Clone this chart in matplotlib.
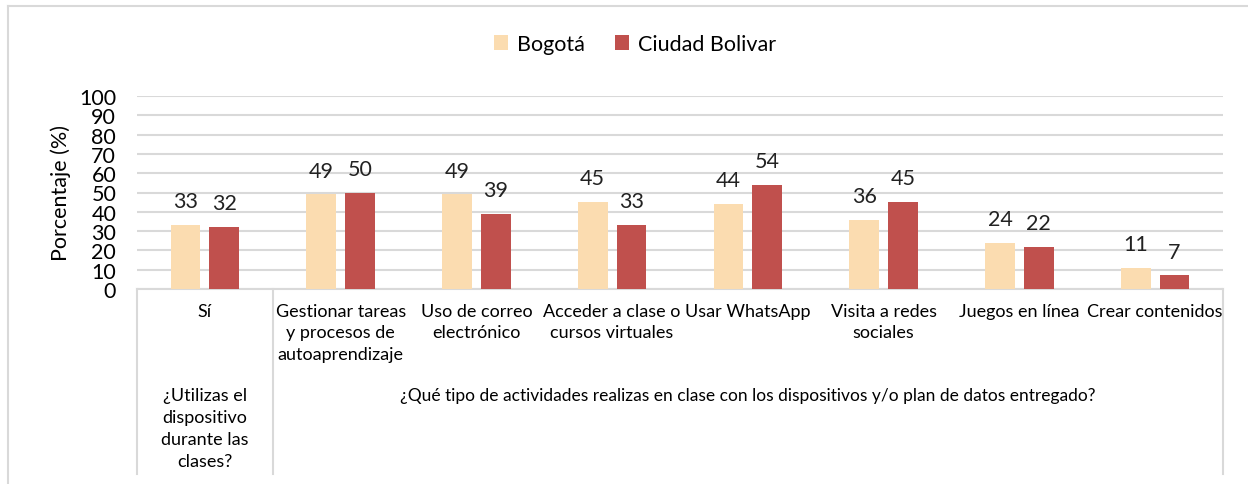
import numpy as np
import matplotlib
matplotlib.use("Agg")
import matplotlib.pyplot as plt
from matplotlib.lines import Line2D
from matplotlib.transforms import blended_transform_factory

plt.rcParams['font.family'] = ['Lato', 'DejaVu Sans']

categorias = ["Sí",
              "Gestionar tareas\ny procesos de\nautoaprendizaje",
              "Uso de correo\nelectrónico",
              "Acceder a clase o\ncursos virtuales",
              "Usar WhatsApp",
              "Visita a redes\nsociales",
              "Juegos en línea",
              "Crear contenidos"]
bogota = [33, 49, 49, 45, 44, 36, 24, 11]
ciudad_bolivar = [32, 50, 39, 33, 54, 45, 22, 7]
grupos = ["¿Utilizas el\ndispositivo\ndurante las\nclases?",
          "¿Qué tipo de actividades realizas en clase con los dispositivos y/o plan de datos entregado?"]
yticks = list(range(0, 101, 10))

c_bog = "#FBDCB0"
c_cb = "#C0504D"
gris = "#D9D9D9"

fig = plt.figure(figsize=(12.48, 4.85), dpi=100)
ax = fig.add_axes([137 / 1248, 1 - 290 / 485, (1223 - 137) / 1248, 193 / 485])

x = np.arange(len(categorias))
w = 0.22
b1 = ax.bar(x - 0.143, bogota, w, color=c_bog, label="Bogotá", zorder=3)
b2 = ax.bar(x + 0.143, ciudad_bolivar, w, color=c_cb, label="Ciudad Bolivar", zorder=3)

for barras in (b1, b2):
    for r in barras:
        ax.annotate(f"{r.get_height():.0f}", (r.get_x() + r.get_width() / 2, r.get_height()),
                    xytext=(0, 10), textcoords="offset points", ha="center", va="bottom",
                    fontsize=15.5, color="#222222")

ax.set_xlim(-0.5, len(categorias) - 0.5)
ax.set_ylim(0, 100)
ax.set_yticks(yticks)
ax.tick_params(axis="y", length=0, labelsize=15.5, pad=15)
ax.set_xticks([])
ax.yaxis.grid(True, color=gris, lw=1.5, zorder=0)
for s in ["top", "right", "left"]:
    ax.spines[s].set_visible(False)
ax.spines["bottom"].set_color(gris)
ax.spines["bottom"].set_linewidth(1.5)
ax.set_ylabel("Porcentaje (%)", fontsize=15.5, labelpad=6)

# etiquetas de categoría y de grupo bajo el eje
tr = blended_transform_factory(ax.transData, ax.transAxes)
for i, c in enumerate(categorias):
    ax.text(i, -0.07, c, transform=tr, ha="center", va="top", fontsize=13, linespacing=1.45)
ax.text(0, -0.51, grupos[0], transform=tr, ha="center", va="top", fontsize=13, linespacing=1.45)
ax.text(4, -0.55, grupos[1], transform=tr, ha="center", va="center", fontsize=12.5)

for xs in (-0.5, 0.5, 7.5):
    ax.add_line(Line2D([xs, xs], [0, -0.96], transform=tr, color=gris, lw=1.5, clip_on=False))

fig.legend(handles=[b1, b2], loc="center", bbox_to_anchor=(635 / 1248, 1 - 45 / 485), ncol=2,
           frameon=False, fontsize=15.5, handlelength=0.65, handleheight=0.65,
           handletextpad=0.4, columnspacing=1.4)

# marco exterior del gráfico
fig.add_artist(Line2D([8 / 1248, 8 / 1248], [0, 1 - 7 / 485], color=gris, lw=1.5))
fig.add_artist(Line2D([8 / 1248, 1], [1 - 7 / 485, 1 - 7 / 485], color=gris, lw=1.5))

fig.savefig("out.png", dpi=100)
